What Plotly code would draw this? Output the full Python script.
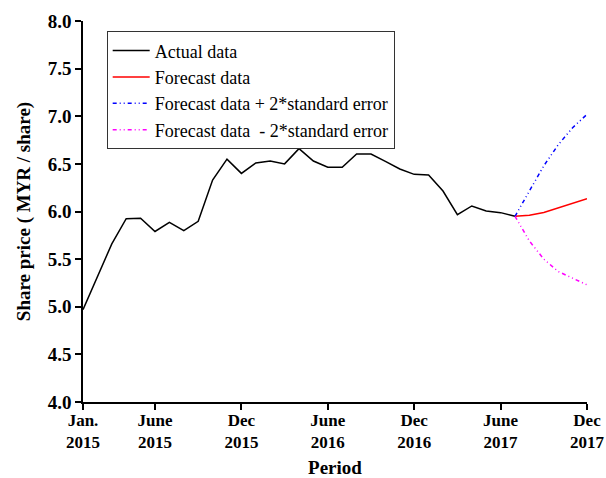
import plotly.graph_objects as go

# Month index: 0 = Jan 2015 ... 35 = Dec 2017
actual_month = list(range(0, 31))
actual_price = [4.97, 5.31, 5.66, 5.925, 5.93, 5.79, 5.886, 5.80, 5.897, 6.33,
                6.55, 6.40, 6.51, 6.53, 6.50, 6.66, 6.53, 6.464, 6.464, 6.604,
                6.604, 6.527, 6.446, 6.39, 6.383, 6.215, 5.967, 6.058, 6.005, 5.988,
                5.95]

forecast_month = [30, 31, 32, 33, 34, 35]
forecast_price = [5.95, 5.96, 5.99, 6.04, 6.09, 6.135]
forecast_upper = [5.95, 6.22, 6.48, 6.70, 6.88, 7.02]
forecast_lower = [5.95, 5.69, 5.50, 5.37, 5.30, 5.23]

tick_vals = [0, 5, 11, 17, 23, 29, 35]
tick_text = ["Jan.<br>2015", "June<br>2015", "Dec<br>2015", "June<br>2016",
             "Dec<br>2016", "June<br>2017", "Dec<br>2017"]
minor_x_vals = [2, 8, 14, 20, 26, 32]

FONT = "Liberation Serif"

fig = go.Figure()
fig.add_trace(go.Scatter(x=actual_month, y=actual_price, mode="lines",
                         name="Actual data", line=dict(color="black", width=1.5)))
fig.add_trace(go.Scatter(x=forecast_month, y=forecast_price, mode="lines",
                         name="Forecast data", line=dict(color="#ff0000", width=1.5)))
fig.add_trace(go.Scatter(x=forecast_month, y=forecast_upper, mode="lines",
                         name="Forecast data + 2*standard error",
                         line=dict(color="#0000ff", width=1.5, dash="4px,3px,1px,3px,1px,3px")))
fig.add_trace(go.Scatter(x=forecast_month, y=forecast_lower, mode="lines",
                         name="Forecast data  - 2*standard error",
                         line=dict(color="#ff00ff", width=1.5, dash="4px,3px,1px,3px,1px,3px")))

xtick_font = dict(family=FONT, size=17, color="black", weight="bold")
ytick_font = dict(family=FONT, size=19, color="black", weight="bold")
title_font = dict(family=FONT, size=19, color="black", weight="bold")

fig.update_layout(
    template="none",
    width=606, height=478,
    margin=dict(l=83, r=19, t=21, b=76, autoexpand=False),
    paper_bgcolor="white", plot_bgcolor="white",
    font=dict(family=FONT, color="black"),
    showlegend=True,
    legend=dict(x=0.047, y=0.973, xanchor="left", yanchor="top",
                bgcolor="white", bordercolor="#333", borderwidth=1,
                font=dict(family=FONT, size=18, color="black"),
                itemwidth=37, tracegroupgap=0),
    xaxis=dict(range=[0, 35], tickmode="array", tickvals=tick_vals, ticktext=tick_text,
               ticks="outside", ticklen=6, tickwidth=1.5, tickcolor="black",
               ticklabelstandoff=-4,
               showline=True, linecolor="black", linewidth=1.5, automargin=False,
               showgrid=False, zeroline=False, tickfont=xtick_font,
               title=dict(text="Period", font=title_font, standoff=18)),
    yaxis=dict(range=[4, 8], tickmode="linear", tick0=4, dtick=0.5, tickformat=".1f",
               ticks="outside", ticklen=6, tickwidth=1.5, tickcolor="black",
               showline=True, linecolor="black", linewidth=1.5, automargin=False,
               showgrid=False, zeroline=False, tickfont=ytick_font,
               title=dict(text="Share price ( MYR / share)", font=title_font, standoff=12)),
    xaxis2=dict(overlaying="x", anchor="y", side="bottom", range=[0, 35],
                tickmode="array", tickvals=tick_vals, showticklabels=False,
                ticks="inside", ticklen=6, tickwidth=1.5, tickcolor="black",
                showline=True, linecolor="black", linewidth=1.5, mirror="ticks",
                showgrid=False, zeroline=False, automargin=False,
                minor=dict(tickmode="array", tickvals=minor_x_vals, ticks="inside",
                           ticklen=3, tickwidth=1, tickcolor="black")),
    yaxis2=dict(overlaying="y", anchor="x", side="left", range=[4, 8],
                tickmode="linear", tick0=4, dtick=0.5, showticklabels=False,
                ticks="inside", ticklen=6, tickwidth=1.5, tickcolor="black",
                showline=True, linecolor="black", linewidth=1.5, mirror="ticks",
                showgrid=False, zeroline=False, automargin=False,
                minor=dict(tickmode="linear", tick0=4, dtick=0.25, ticks="inside",
                           ticklen=3, tickwidth=1, tickcolor="black")),
)

fig.write_html("out.html",
               config={"displayModeBar": False},
               post_script="document.body.style.margin='0';"
                           "document.body.style.overflow='hidden';")
